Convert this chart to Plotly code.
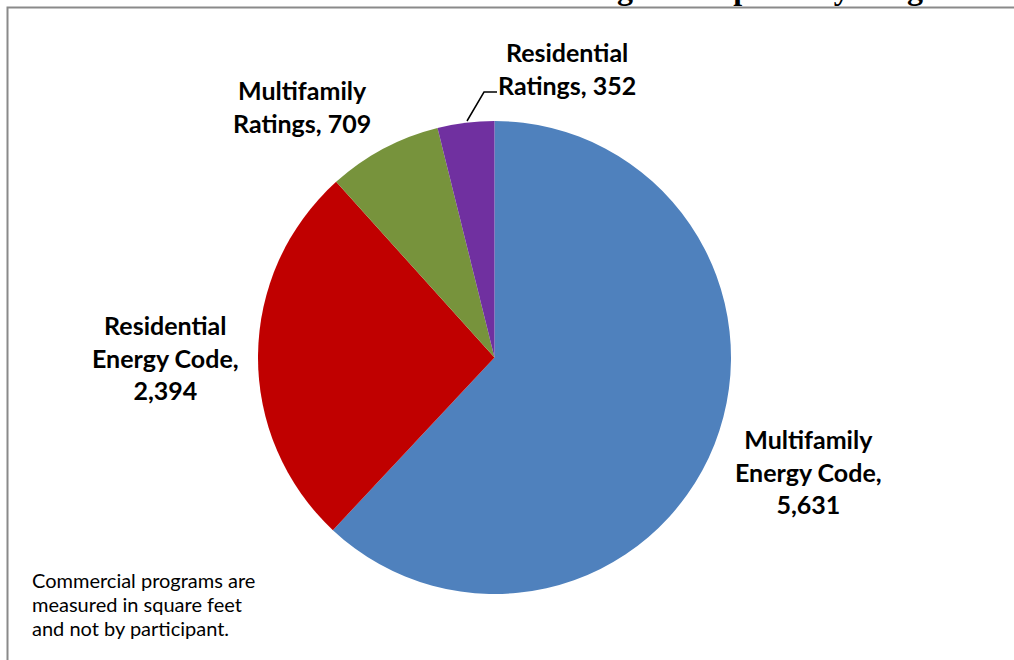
import plotly.graph_objects as go

W, H = 1014, 660

# Participants by program
programs = ["Multifamily Energy Code", "Residential Energy Code",
            "Multifamily Ratings", "Residential Ratings"]
participants = [5631, 2394, 709, 352]
slice_colors = ["#4F81BD", "#C00000", "#77933C", "#7030A0"]

title_text = "Total Number of Green Building Participants by Program"
note_lines = ["Commercial programs are", "measured in square feet", "and not by participant."]


def px(x, y):
    """Pixel position -> paper coordinates (margins are zero)."""
    return x / W, 1 - y / H


def label_text(name, value):
    first, rest = name.split(" ", 1)
    if rest == "Ratings":
        return f"{first}<br>{rest}, {value:,}"
    return f"{first}<br>{rest},<br>{value:,}"


# pie geometry in pixels
cx, cy, r = 494.5, 357.5, 236.5
x0, y1 = px(cx - r, cy - r)
x1, y0 = px(cx + r, cy + r)

fig = go.Figure(go.Pie(
    labels=programs,
    values=participants,
    sort=False,
    direction="clockwise",
    rotation=0,
    marker=dict(colors=slice_colors, line=dict(width=0)),
    textinfo="none",
    hoverinfo="label+value",
    domain=dict(x=[x0, x1], y=[y0, y1]),
    showlegend=False,
))

label_font = dict(family="Lato, Calibri, sans-serif", size=25, color="#000000")
label_pos = {
    "Multifamily Energy Code": (808, 471),
    "Residential Energy Code": (165, 357),
    "Multifamily Ratings": (302, 106),
    "Residential Ratings": (567, 68),
}
annotations = []
for name, value in zip(programs, participants):
    lx, ly = label_pos[name]
    ax_, ay_ = px(lx, ly)
    annotations.append(dict(
        x=ax_, y=ay_, xref="paper", yref="paper",
        text=f"<b>{label_text(name, value)}</b>",
        showarrow=False, xanchor="center", yanchor="middle",
        align="center", font=label_font,
    ))

# explanatory note, lower left (one annotation per line for tighter leading)
for i, line in enumerate(note_lines):
    nx, ny = px(30, 580 + 24 * i)
    annotations.append(dict(
        x=nx, y=ny, xref="paper", yref="paper",
        text=line,
        showarrow=False, xanchor="left", yanchor="middle", align="left",
        font=dict(family="Lato, Calibri, sans-serif", size=20, color="#000000"),
    ))

# chart title, running off the top of the frame
tx, ty = px(187, 8)
annotations.append(dict(
    x=tx, y=ty, xref="paper", yref="paper",
    text=f"<b>{title_text}</b>",
    showarrow=False, xanchor="left", yanchor="bottom",
    font=dict(family="Liberation Serif, Times New Roman, serif", size=32, color="#000000"),
))

# leader line for the small purple slice
p1, p2, p3 = px(467, 121), px(484, 92), px(497, 92)
leader = f"M {p1[0]} {p1[1]} L {p2[0]} {p2[1]} L {p3[0]} {p3[1]}"

bx0, by0 = px(7.5, 7.5)
shapes = [
    dict(type="rect", xref="paper", yref="paper",
         x0=bx0, y0=by0, x1=1.05, y1=-0.05,
         line=dict(color="#8A8A8A", width=2), fillcolor="rgba(0,0,0,0)"),
    dict(type="path", xref="paper", yref="paper", path=leader,
         line=dict(color="#000000", width=1.5)),
]

fig.update_layout(
    width=W, height=H,
    margin=dict(l=0, r=0, t=0, b=0),
    paper_bgcolor="#FFFFFF",
    plot_bgcolor="#FFFFFF",
    annotations=annotations,
    shapes=shapes,
)

fig.write_html("out.html")
